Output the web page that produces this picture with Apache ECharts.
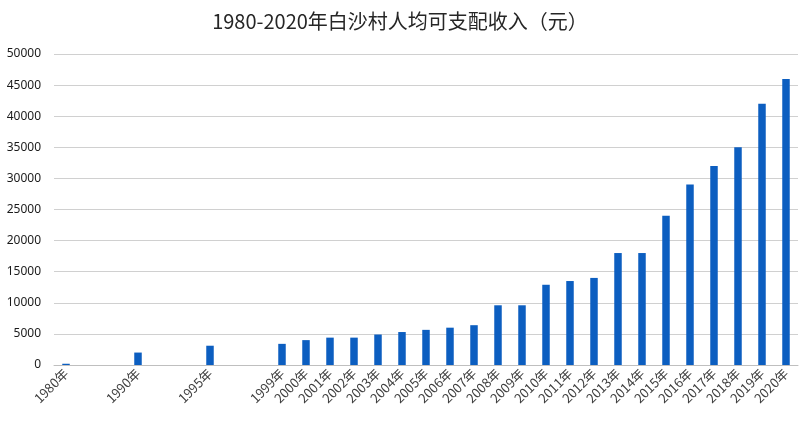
<!DOCTYPE html>
<html>
<head>
<meta charset="utf-8">
<script src="https://cdn.jsdelivr.net/npm/echarts@6/dist/echarts.min.js"></script>
<style>html,body{margin:0;padding:0;background:#fff}#c{width:800px;height:427px}</style>
</head>
<body>
<div id="c"></div>
<script>
var titleText = '1980-2020年白沙村人均可支配收入（元）';
var categories = ['1980年','','','1990年','','','1995年','','','1999年',
  '2000年','2001年','2002年','2003年','2004年','2005年','2006年','2007年','2008年','2009年',
  '2010年','2011年','2012年','2013年','2014年','2015年','2016年','2017年','2018年','2019年','2020年'];
var incomeValues = [200,null,null,2000,null,null,3100,null,null,3400,
  4000,4400,4400,4900,5300,5650,6000,6400,9600,9600,
  12900,13500,14000,18000,18000,24000,29000,32000,35000,42000,46000];
var yTicks = {min:0, max:50000, interval:5000};

var chart = echarts.init(document.getElementById('c'));
chart.setOption({
  backgroundColor:'#fff',
  animation:false,
  title:{text:titleText,left:'center',top:6,
    textStyle:{fontFamily:'Noto Sans CJK SC',fontSize:20,fontWeight:'normal',color:'#262626'}},
  grid:{left:54,right:2,top:54,bottom:62,containLabel:false},
  xAxis:{type:'category',data:categories,
    axisLine:{lineStyle:{color:'#bfbfbf'}},
    axisTick:{show:false},
    axisLabel:{interval:0,rotate:45,margin:6,fontSize:13,color:'#404040',fontFamily:'Noto Sans CJK SC'}},
  yAxis:{type:'value',min:yTicks.min,max:yTicks.max,interval:yTicks.interval,
    axisLine:{show:false},axisTick:{show:false},
    axisLabel:{fontSize:12,color:'#1a1a1a',margin:13,fontFamily:'Noto Sans',
      formatter:function(v){return String(v);}},
    splitLine:{lineStyle:{color:'#d0d0d0',width:1}}},
  series:[{type:'bar',data:incomeValues,barWidth:7.5,itemStyle:{color:'#0c5ec0'}}]
});
</script>
</body>
</html>
